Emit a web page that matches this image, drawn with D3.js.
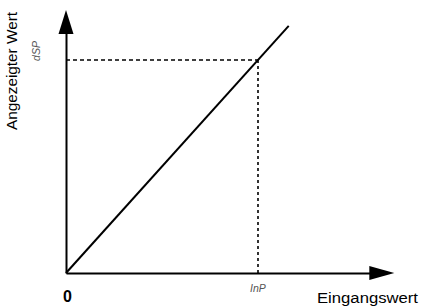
<!DOCTYPE html>
<html>
<head>
<meta charset="utf-8">
<script src="https://cdn.jsdelivr.net/npm/d3@7"></script>
<style>
  body { margin: 0; background: #fff; }
  text { font-family: "Liberation Sans", Arial, sans-serif; }
</style>
</head>
<body>
<div id="chart"></div>
<script>
//data
const inputValues = [0, 1.16];     // Eingangswert
const displayValues = [0, 1.16];   // Angezeigter Wert
const markerInput = [1];           // InP
const markerDisplay = [1];         // dSP
const axisMax = [1.71, 1.235];     // x, y extent of the arrows
const labels = ["Angezeigter Wert", "Eingangswert", "0", "dSP", "InP"];

const width = 422, height = 307;

const svg = d3.select("#chart").append("svg")
  .attr("width", width)
  .attr("height", height);

//scales
const x = d3.scaleLinear().domain([0, 1]).range([66, 258]);
const y = d3.scaleLinear().domain([0, 1]).range([273, 60]);

//axes without ticks, arrow heads added by hand
const xAxis = d3.axisBottom(x).tickValues([]).tickSizeOuter(0);
const yAxis = d3.axisLeft(y).tickValues([]).tickSizeOuter(0);

const xTip = x(axisMax[0]), yTip = y(axisMax[1]);

svg.append("g")
  .attr("transform", `translate(0,${y(0)})`)
  .call(xAxis.scale(x.copy().domain([0, axisMax[0] - 0.1]).range([x(0), xTip - 20])))
  .select(".domain").attr("stroke", "#000").attr("stroke-width", 2);

svg.append("g")
  .attr("transform", `translate(${x(0)},0)`)
  .call(yAxis.scale(y.copy().domain([0, axisMax[1] - 0.1]).range([y(0), yTip + 20])))
  .select(".domain").attr("stroke", "#000").attr("stroke-width", 2);

//arrow heads
svg.append("path")
  .attr("d", `M${xTip},${y(0)} L${xTip - 25},${y(0) - 7} L${xTip - 25},${y(0) + 7} Z`)
  .attr("fill", "#000");
svg.append("path")
  .attr("d", `M${x(0)},${yTip} L${x(0) - 7.5},${yTip + 24} L${x(0) + 7.5},${yTip + 24} Z`)
  .attr("fill", "#000");

//dashed guides
svg.append("line")
  .attr("x1", x(0)).attr("x2", x(markerInput[0]))
  .attr("y1", y(markerDisplay[0])).attr("y2", y(markerDisplay[0]))
  .attr("stroke", "#000").attr("stroke-width", 1.3)
  .attr("stroke-dasharray", "4,3");
svg.append("line")
  .attr("x1", x(markerInput[0])).attr("x2", x(markerInput[0]))
  .attr("y1", y(markerDisplay[0])).attr("y2", y(0))
  .attr("stroke", "#000").attr("stroke-width", 1.6)
  .attr("stroke-dasharray", "3,3");

//main line
const line = d3.line()
  .x((d, i) => x(inputValues[i]))
  .y((d, i) => y(displayValues[i]));
svg.append("path")
  .datum(inputValues)
  .attr("d", line)
  .attr("fill", "none")
  .attr("stroke", "#000")
  .attr("stroke-width", 2);

//labels
svg.append("text")
  .attr("transform", `translate(17,71) rotate(-90)`)
  .attr("text-anchor", "middle")
  .attr("font-size", 14)
  .attr("textLength", 118)
  .attr("lengthAdjust", "spacingAndGlyphs")
  .text(labels[0]);

svg.append("text")
  .attr("x", 418).attr("y", 303)
  .attr("text-anchor", "end")
  .attr("font-size", 14)
  .attr("textLength", 101)
  .attr("lengthAdjust", "spacingAndGlyphs")
  .text(labels[1]);

svg.append("text")
  .attr("x", x(0) + 1.5).attr("y", 302)
  .attr("text-anchor", "middle")
  .attr("font-size", 16)
  .attr("font-weight", "bold")
  .text(labels[2]);

svg.append("text")
  .attr("transform", `translate(40,${y(markerDisplay[0]) - 9}) rotate(-90)`)
  .attr("text-anchor", "middle")
  .attr("font-size", 10.5)
  .attr("font-style", "italic")
  .attr("fill", "#555")
  .text(labels[3]);

svg.append("text")
  .attr("x", x(markerInput[0])).attr("y", 292)
  .attr("text-anchor", "middle")
  .attr("font-size", 10.5)
  .attr("font-style", "italic")
  .attr("fill", "#555")
  .text(labels[4]);
</script>
</body>
</html>
